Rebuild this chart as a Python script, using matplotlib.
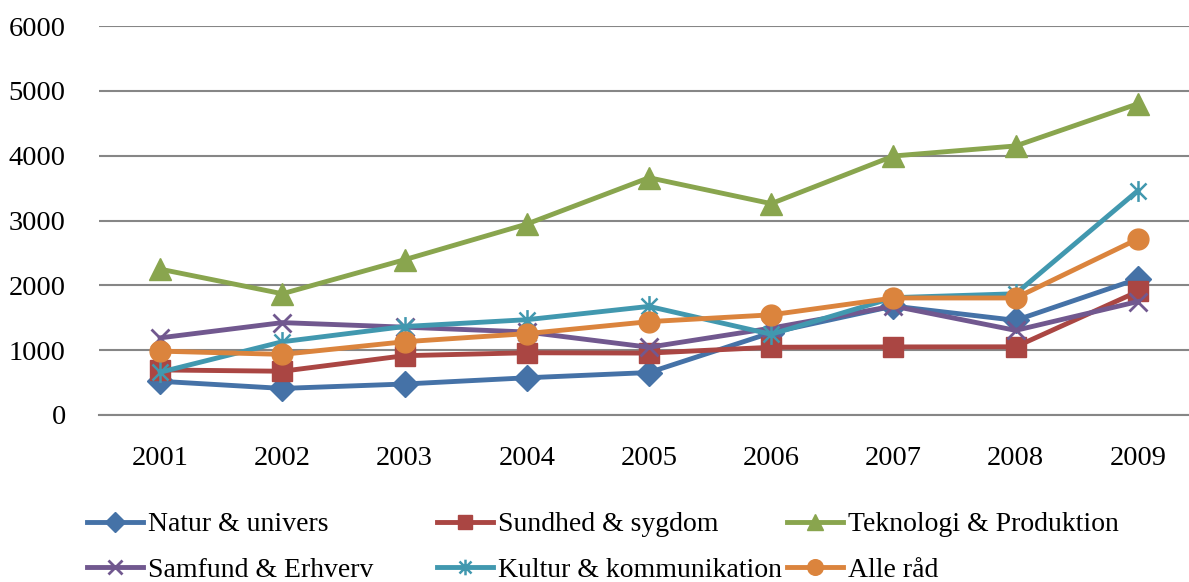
import numpy as np
import matplotlib.pyplot as plt
from matplotlib.path import Path

years = ["2001", "2002", "2003", "2004", "2005", "2006", "2007", "2008", "2009"]

natur = [520, 410, 478, 574, 655, 1270, 1680, 1460, 2100]
sundhed = [695, 675, 915, 960, 955, 1045, 1050, 1052, 1905]
teknologi = [2250, 1870, 2395, 2945, 3660, 3260, 3995, 4150, 4800]
samfund = [1190, 1425, 1355, 1280, 1045, 1340, 1680, 1305, 1750]
kultur = [660, 1130, 1365, 1470, 1675, 1245, 1810, 1870, 3460]
alle = [985, 935, 1130, 1255, 1440, 1545, 1805, 1805, 2715]

names = ["Natur & univers", "Sundhed & sygdom", "Teknologi & Produktion",
         "Samfund & Erhverv", "Kultur & kommunikation", "Alle råd"]

# excel style star: x plus a vertical bar
star = Path([(-1, -1), (1, 1), (-1, 1), (1, -1), (0, -1.3), (0, 1.3)],
            [Path.MOVETO, Path.LINETO, Path.MOVETO, Path.LINETO, Path.MOVETO, Path.LINETO])

styles = [
    dict(color="#4572A7", marker="D", ms=13),
    dict(color="#AA4643", marker="s", ms=14),
    dict(color="#89A54E", marker="^", ms=16),
    dict(color="#71588F", marker="x", ms=13, mew=2),
    dict(color="#4198AF", marker=star, ms=15, mew=1.8),
    dict(color="#DB843D", marker="o", ms=15),
]

plt.rcParams['font.family'] = ['Liberation Serif', 'DejaVu Serif']

fig = plt.figure(figsize=(11.89, 5.82), dpi=100)
ax = fig.add_axes([99/1189, 167/582, 1090/1189, 389/582])

x = np.arange(len(years))
series = [natur, sundhed, teknologi, samfund, kultur, alle]
lines = []
for vals, name, st in zip(series, names, styles):
    ln, = ax.plot(x, vals, lw=3.5, label=name, clip_on=False, **st)
    lines.append(ln)

ax.set_ylim(0, 6000)
ax.set_xlim(-0.5, 8.5 - 10/122.25)
ax.set_yticks(range(0, 6001, 1000))
ax.set_xticks(x)
ax.set_xticklabels(years)
ax.yaxis.grid(True, color="#868686", lw=1.5)
ax.set_axisbelow(True)
for s in ["top", "right", "left"]:
    ax.spines[s].set_visible(False)
ax.spines["bottom"].set_color("#868686")
ax.spines["bottom"].set_linewidth(1.5)
ax.tick_params(axis="both", length=0, labelsize=20.5, colors="black")
ax.tick_params(axis="y", pad=24)
ax.tick_params(axis="x", pad=22)

cols = [(0, 3), (1, 4), (2, 5)]
lefts = [87, 437, 787]
for (a, b), lx in zip(cols, lefts):
    fig.legend([lines[a], lines[b]], [names[a], names[b]],
               loc="upper left", bbox_to_anchor=(lx/1189, 1 - 512/582),
               frameon=False, fontsize=20, handlelength=2.0, markerscale=0.75,
               handletextpad=0.18, labelspacing=0.72, borderpad=0,
               borderaxespad=0)

fig.savefig("out.png", dpi=100)
